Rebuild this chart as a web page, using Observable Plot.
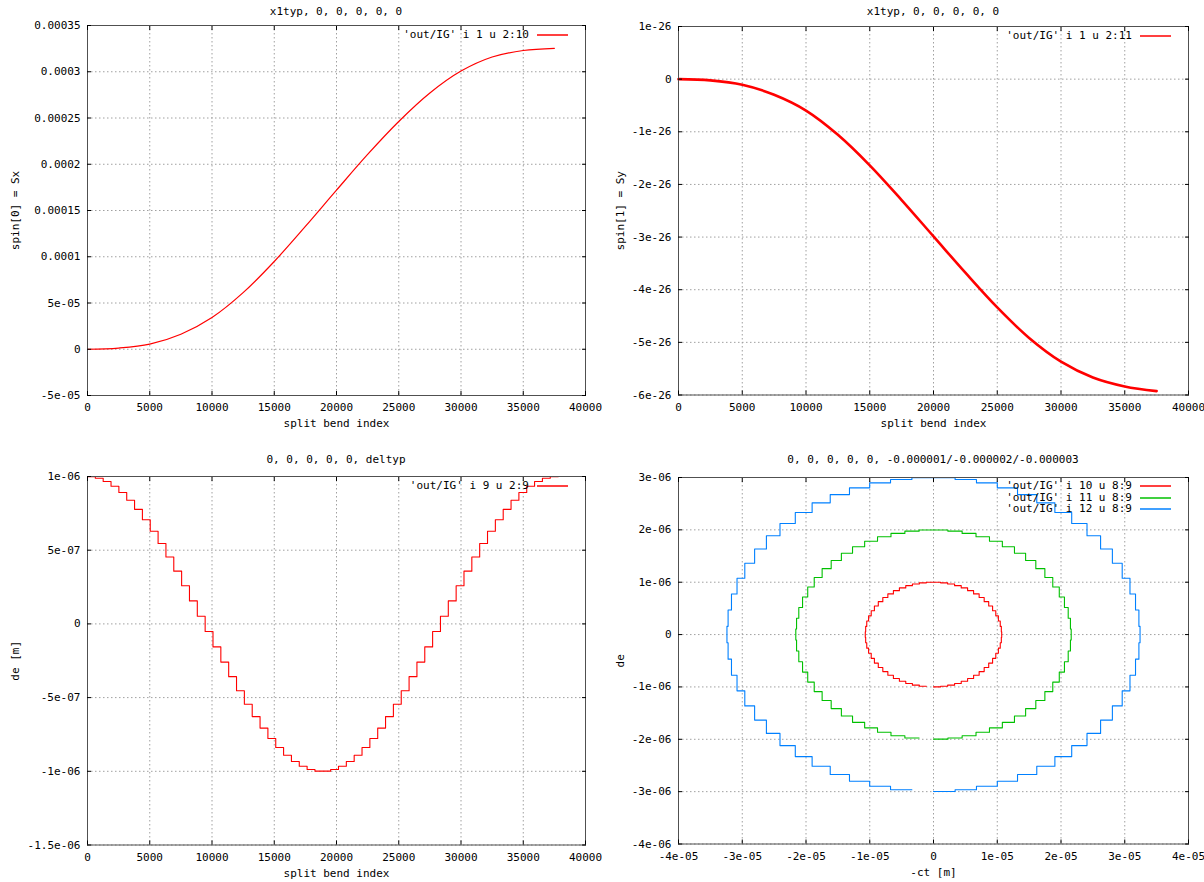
<!DOCTYPE html>
<html>
<head>
<meta charset="utf-8">
<script src="https://cdn.jsdelivr.net/npm/d3@7"></script>
<script src="https://cdn.jsdelivr.net/npm/@observablehq/plot@0.6"></script>
<style>
  html, body { margin: 0; padding: 0; background: #fff; }
  body { width: 1204px; height: 882px; position: relative; overflow: hidden;
         font-family: "DejaVu Sans Mono", monospace; font-size: 11px; color: #000; }
  .panel { position: absolute; width: 602px; height: 441px; overflow: hidden; }
  .panel svg { position: absolute; left: 0; top: 0; }
  .title { position: absolute; text-align: center; line-height: 14px; white-space: nowrap; }
  .lg-text { position: absolute; line-height: 12px; white-space: pre; text-align: right; }
  .lg-line { position: absolute; height: 2px; }
</style>
</head>
<body>
<script>
// ---------------- data ----------------
// top-left: spin[0] = Sx vs split bend index
const tlIndex = [0, 2500, 5000, 7500, 10000, 12500, 15000, 17500, 20000, 22500, 25000, 27500, 30000, 32500, 35000, 37500];
const tlSx = [0, 0.0000013, 0.0000055, 0.0000162, 0.0000343, 0.0000612, 0.0000949, 0.0001328, 0.000172, 0.0002106, 0.0002462, 0.000277, 0.0003007, 0.0003159, 0.000323, 0.0003253];

// top-right: spin[1] = Sy vs split bend index (units of 1e-26)
const trIndex = [0, 2500, 5000, 7500, 10000, 12500, 15000, 17500, 20000, 22500, 25000, 27500, 30000, 32500, 35000, 37500];
const trSy = [0, -0.024, -0.107, -0.297, -0.597, -1.057, -1.637, -2.297, -2.987, -3.677, -4.337, -4.917, -5.367, -5.667, -5.837, -5.927];
const trUnit = 1e-26;

// bottom-left: de vs split bend index, staircase (units of 1e-6)
const blIndex = [0, 630, 1260, 1890, 2520, 3150, 3780, 4410, 5040, 5670, 6300, 6930, 7560, 8190, 8820, 9450, 10080, 10710, 11340, 11970, 12600, 13230, 13860, 14490, 15120, 15750, 16380, 17010, 17640, 18270, 18900, 19530, 20160, 20790, 21420, 22050, 22680, 23310, 23940, 24570, 25200, 25830, 26460, 27090, 27720, 28350, 28980, 29610, 30240, 30870, 31500, 32130, 32760, 33390, 34020, 34650, 35280, 35910, 36540, 37170, 37800];
const blDe = [0.999, 0.988, 0.966, 0.934, 0.891, 0.839, 0.777, 0.707, 0.629, 0.545, 0.454, 0.358, 0.259, 0.156, 0.052, -0.052, -0.156, -0.259, -0.358, -0.454, -0.545, -0.629, -0.707, -0.777, -0.839, -0.891, -0.934, -0.966, -0.988, -0.999, -0.999, -0.988, -0.966, -0.934, -0.891, -0.839, -0.777, -0.707, -0.629, -0.545, -0.454, -0.358, -0.259, -0.156, -0.052, 0.052, 0.156, 0.259, 0.358, 0.454, 0.545, 0.629, 0.707, 0.777, 0.839, 0.891, 0.934, 0.966, 0.988, 0.999, 0.999];
const deUnit = 1e-6;

// bottom-right: de vs -ct phase space (ct in 1e-5, de in 1e-6)
const ctUnit = 1e-5;
const ctRed = [0, 0.112, 0.222, 0.331, 0.435, 0.535, 0.629, 0.716, 0.795, 0.866, 0.927, 0.977, 1.018, 1.047, 1.064, 1.07, 1.064, 1.047, 1.018, 0.977, 0.927, 0.866, 0.795, 0.716, 0.629, 0.535, 0.435, 0.331, 0.222, 0.112, 0, -0.112, -0.222, -0.331, -0.435, -0.535, -0.629, -0.716, -0.795, -0.866, -0.927, -0.977, -1.018, -1.047, -1.064, -1.07, -1.064, -1.047, -1.018, -0.977, -0.927, -0.866, -0.795, -0.716, -0.629, -0.535, -0.435, -0.331, -0.222, -0.112];
const deRed = [-0.999, -0.988, -0.966, -0.934, -0.891, -0.839, -0.777, -0.707, -0.629, -0.545, -0.454, -0.358, -0.259, -0.156, -0.052, 0.052, 0.156, 0.259, 0.358, 0.454, 0.545, 0.629, 0.707, 0.777, 0.839, 0.891, 0.934, 0.966, 0.988, 0.999, 0.999, 0.988, 0.966, 0.934, 0.891, 0.839, 0.777, 0.707, 0.629, 0.545, 0.454, 0.358, 0.259, 0.156, 0.052, -0.052, -0.156, -0.259, -0.358, -0.454, -0.545, -0.629, -0.707, -0.777, -0.839, -0.891, -0.934, -0.966, -0.988, -0.988];
const ctGreen = [0, 0.226, 0.449, 0.667, 0.878, 1.08, 1.27, 1.445, 1.605, 1.747, 1.871, 1.973, 2.054, 2.113, 2.148, 2.16, 2.148, 2.113, 2.054, 1.973, 1.871, 1.747, 1.605, 1.445, 1.27, 1.08, 0.878, 0.667, 0.449, 0.226, 0, -0.226, -0.449, -0.667, -0.878, -1.08, -1.27, -1.445, -1.605, -1.747, -1.871, -1.973, -2.054, -2.113, -2.148, -2.16, -2.148, -2.113, -2.054, -1.973, -1.871, -1.747, -1.605, -1.445, -1.27, -1.08, -0.878, -0.667, -0.449, -0.226];
const deGreen = [-1.997, -1.975, -1.932, -1.867, -1.782, -1.677, -1.554, -1.414, -1.259, -1.089, -0.908, -0.717, -0.518, -0.313, -0.105, 0.105, 0.313, 0.518, 0.717, 0.908, 1.089, 1.259, 1.414, 1.554, 1.677, 1.782, 1.867, 1.932, 1.975, 1.997, 1.997, 1.975, 1.932, 1.867, 1.782, 1.677, 1.554, 1.414, 1.259, 1.089, 0.908, 0.717, 0.518, 0.313, 0.105, -0.105, -0.313, -0.518, -0.717, -0.908, -1.089, -1.259, -1.414, -1.554, -1.677, -1.782, -1.867, -1.932, -1.975, -1.975];
const ctBlue = [0, 0.339, 0.674, 1.001, 1.318, 1.62, 1.904, 2.168, 2.408, 2.621, 2.806, 2.96, 3.082, 3.169, 3.222, 3.24, 3.222, 3.169, 3.082, 2.96, 2.806, 2.621, 2.408, 2.168, 1.904, 1.62, 1.318, 1.001, 0.674, 0.339, 0, -0.339, -0.674, -1.001, -1.318, -1.62, -1.904, -2.168, -2.408, -2.621, -2.806, -2.96, -3.082, -3.169, -3.222, -3.24, -3.222, -3.169, -3.082, -2.96, -2.806, -2.621, -2.408, -2.168, -1.904, -1.62, -1.318, -1.001, -0.674, -0.339];
const deBlue = [-2.996, -2.963, -2.898, -2.801, -2.673, -2.516, -2.331, -2.121, -1.888, -1.634, -1.362, -1.075, -0.776, -0.469, -0.157, 0.157, 0.469, 0.776, 1.075, 1.362, 1.634, 1.888, 2.121, 2.331, 2.516, 2.673, 2.801, 2.898, 2.963, 2.996, 2.996, 2.963, 2.898, 2.801, 2.673, 2.516, 2.331, 2.121, 1.888, 1.634, 1.362, 1.075, 0.776, 0.469, 0.157, -0.157, -0.469, -0.776, -1.075, -1.362, -1.634, -1.888, -2.121, -2.331, -2.516, -2.673, -2.801, -2.898, -2.963, -2.963];

// ticks and labels
const idxTicks = [0, 5000, 10000, 15000, 20000, 25000, 30000, 35000, 40000];
const idxLabels = ["0", "5000", "10000", "15000", "20000", "25000", "30000", "35000", "40000"];
const tlYTicks = [-0.00005, 0, 0.00005, 0.0001, 0.00015, 0.0002, 0.00025, 0.0003, 0.00035];
const tlYLabels = ["-5e-05", "0", "5e-05", "0.0001", "0.00015", "0.0002", "0.00025", "0.0003", "0.00035"];
const trYTicks = [-6e-26, -5e-26, -4e-26, -3e-26, -2e-26, -1e-26, 0, 1e-26];
const trYLabels = ["-6e-26", "-5e-26", "-4e-26", "-3e-26", "-2e-26", "-1e-26", "0", "1e-26"];
const blYTicks = [-1.5e-6, -1e-6, -5e-7, 0, 5e-7, 1e-6];
const blYLabels = ["-1.5e-06", "-1e-06", "-5e-07", "0", "5e-07", "1e-06"];
const brXTicks = [-4e-5, -3e-5, -2e-5, -1e-5, 0, 1e-5, 2e-5, 3e-5, 4e-5];
const brXLabels = ["-4e-05", "-3e-05", "-2e-05", "-1e-05", "0", "1e-05", "2e-05", "3e-05", "4e-05"];
const brYTicks = [-4e-6, -3e-6, -2e-6, -1e-6, 0, 1e-6, 2e-6, 3e-6];
const brYLabels = ["-4e-06", "-3e-06", "-2e-06", "-1e-06", "0", "1e-06", "2e-06", "3e-06"];

const titles = ["x1typ, 0, 0, 0, 0, 0", "x1typ, 0, 0, 0, 0, 0", "0, 0, 0, 0, 0, deltyp", "0, 0, 0, 0, 0, -0.000001/-0.000002/-0.000003"];
const legendTL = ["'out/IG' i 1 u 2:10"];
const legendTR = ["'out/IG' i 1 u 2:11"];
const legendBL = ["'out/IG' i 9 u 2:9"];
const legendBR = ["'out/IG' i 10 u 8:9", "'out/IG' i 11 u 8:9", "'out/IG' i 12 u 8:9"];

const RED = "#ff0000", GREEN = "#00c000", BLUE = "#0080ff";

// ---------------- rows ----------------
const tlRows = tlIndex.map((i, k) => ({i, v: tlSx[k]}));
const trRows = trIndex.map((i, k) => ({i, v: trSy[k] * trUnit}));
const blRows = blIndex.map((i, k) => ({i, v: blDe[k] * deUnit}));
const orbit = (cts, des) => cts.map((c, k) => ({ct: c * ctUnit, de: des[k] * deUnit}));
const brRed = orbit(ctRed, deRed), brGreen = orbit(ctGreen, deGreen), brBlue = orbit(ctBlue, deBlue);

// ---------------- drawing ----------------
const W = 602, H = 441;
const FONT = '"DejaVu Sans Mono", monospace';
const GRID = {stroke: "#a0a0a0", strokeOpacity: 1, strokeDasharray: "1.5,2.5", strokeWidth: 1};

function makePanel(cfg) {
  const div = document.createElement("div");
  div.className = "panel";
  div.style.left = cfg.px + "px";
  div.style.top = cfg.py + "px";
  document.body.appendChild(div);

  const fx = new Map(cfg.xTicks.map((v, i) => [v, cfg.xLabels[i]]));
  const fy = new Map(cfg.yTicks.map((v, i) => [v, cfg.yLabels[i]]));

  const svg = Plot.plot({
    width: W, height: H,
    marginLeft: cfg.l, marginRight: W - cfg.r, marginTop: cfg.t, marginBottom: H - cfg.b,
    style: {fontFamily: FONT, fontSize: "11px", color: "#000", background: "transparent"},
    x: {domain: cfg.xDomain},
    y: {domain: cfg.yDomain},
    marks: [
      Plot.gridX(cfg.xTicks, GRID),
      Plot.gridY(cfg.yTicks, GRID),
      ...cfg.lines,
      Plot.frame({stroke: "#505050", strokeWidth: 1}),
      Plot.axisX(cfg.xTicks, {anchor: "bottom", tickSize: -4, tickPadding: 12, tickFormat: d => fx.get(d), label: null, fontSize: 11}),
      Plot.axisX(cfg.xTicks, {anchor: "top", tickSize: -4, tickFormat: () => null, label: null}),
      Plot.axisY(cfg.yTicks, {anchor: "left", tickSize: -4, tickPadding: 11, tickFormat: d => fy.get(d), label: null, fontSize: 11}),
      Plot.axisY(cfg.yTicks, {anchor: "right", tickSize: -4, tickFormat: () => null, label: null}),
      Plot.text([cfg.xLabel], {frameAnchor: "bottom", dy: 28, lineAnchor: "middle", textAnchor: "middle", fontSize: 11}),
      Plot.text([cfg.yLabel], {frameAnchor: "left", dx: -cfg.yLabOff, rotate: -90, lineAnchor: "middle", textAnchor: "middle", fontSize: 11})
    ]
  });
  div.appendChild(svg);

  const title = document.createElement("div");
  title.className = "title";
  title.style.left = cfg.l + "px";
  title.style.width = (cfg.r - cfg.l) + "px";
  title.style.top = (cfg.titleY - 7) + "px";
  title.textContent = cfg.title;
  div.appendChild(title);

  cfg.legend.forEach((txt, k) => {
    const yc = cfg.t + cfg.legendY + k * 11.5;
    const t = document.createElement("div");
    t.className = "lg-text";
    t.style.right = (W - (cfg.r - 56)) + "px";
    t.style.top = (yc - 6) + "px";
    t.textContent = txt;
    div.appendChild(t);
    const ln = document.createElement("div");
    ln.className = "lg-line";
    ln.style.left = (cfg.r - 48) + "px";
    ln.style.width = "31px";
    ln.style.top = (yc - 1) + "px";
    ln.style.background = cfg.legendColors[k];
    ln.style.opacity = "0.75";
    div.appendChild(ln);
  });
}

makePanel({
  px: 0, py: 0, l: 87, r: 585, t: 25, b: 395, titleY: 12, title: titles[0],
  xDomain: [0, 40000], yDomain: [-0.00005, 0.00035],
  xTicks: idxTicks, xLabels: idxLabels, yTicks: tlYTicks, yLabels: tlYLabels,
  xLabel: "split bend index", yLabel: "spin[0] = Sx", yLabOff: 72,
  lines: [Plot.line(tlRows, {x: "i", y: "v", stroke: RED, strokeWidth: 1.2, curve: "catmull-rom"})],
  legend: legendTL, legendColors: [RED], legendY: 10
});

makePanel({
  px: 602, py: 0, l: 76, r: 586, t: 26, b: 394.5, titleY: 12, title: titles[1],
  xDomain: [0, 40000], yDomain: [-6e-26, 1e-26],
  xTicks: idxTicks, xLabels: idxLabels, yTicks: trYTicks, yLabels: trYLabels,
  xLabel: "split bend index", yLabel: "spin[1] = Sy", yLabOff: 58,
  lines: [Plot.line(trRows, {x: "i", y: "v", stroke: RED, strokeWidth: 2.6, curve: "catmull-rom"})],
  legend: legendTR, legendColors: [RED], legendY: 10
});

makePanel({
  px: 0, py: 441, l: 87, r: 585, t: 35, b: 403.5, titleY: 19, title: titles[2],
  xDomain: [0, 40000], yDomain: [-1.5e-6, 1e-6],
  xTicks: idxTicks, xLabels: idxLabels, yTicks: blYTicks, yLabels: blYLabels,
  xLabel: "split bend index", yLabel: "de [m]", yLabOff: 72,
  lines: [Plot.line(blRows, {x: "i", y: "v", stroke: RED, strokeWidth: 1.1, curve: "step-after"})],
  legend: legendBL, legendColors: [RED], legendY: 10
});

makePanel({
  px: 602, py: 441, l: 76, r: 586, t: 36, b: 402.5, titleY: 19, title: titles[3],
  xDomain: [-4e-5, 4e-5], yDomain: [-4e-6, 3e-6],
  xTicks: brXTicks, xLabels: brXLabels, yTicks: brYTicks, yLabels: brYLabels,
  xLabel: "-ct [m]", yLabel: "de", yLabOff: 58,
  lines: [
    Plot.line(brRed, {x: "ct", y: "de", stroke: RED, strokeWidth: 1.1, curve: "step-after"}),
    Plot.line(brGreen, {x: "ct", y: "de", stroke: GREEN, strokeWidth: 1.1, curve: "step-after"}),
    Plot.line(brBlue, {x: "ct", y: "de", stroke: BLUE, strokeWidth: 1.1, curve: "step-after"})
  ],
  legend: legendBR, legendColors: [RED, GREEN, BLUE], legendY: 9
});
</script>
</body>
</html>
